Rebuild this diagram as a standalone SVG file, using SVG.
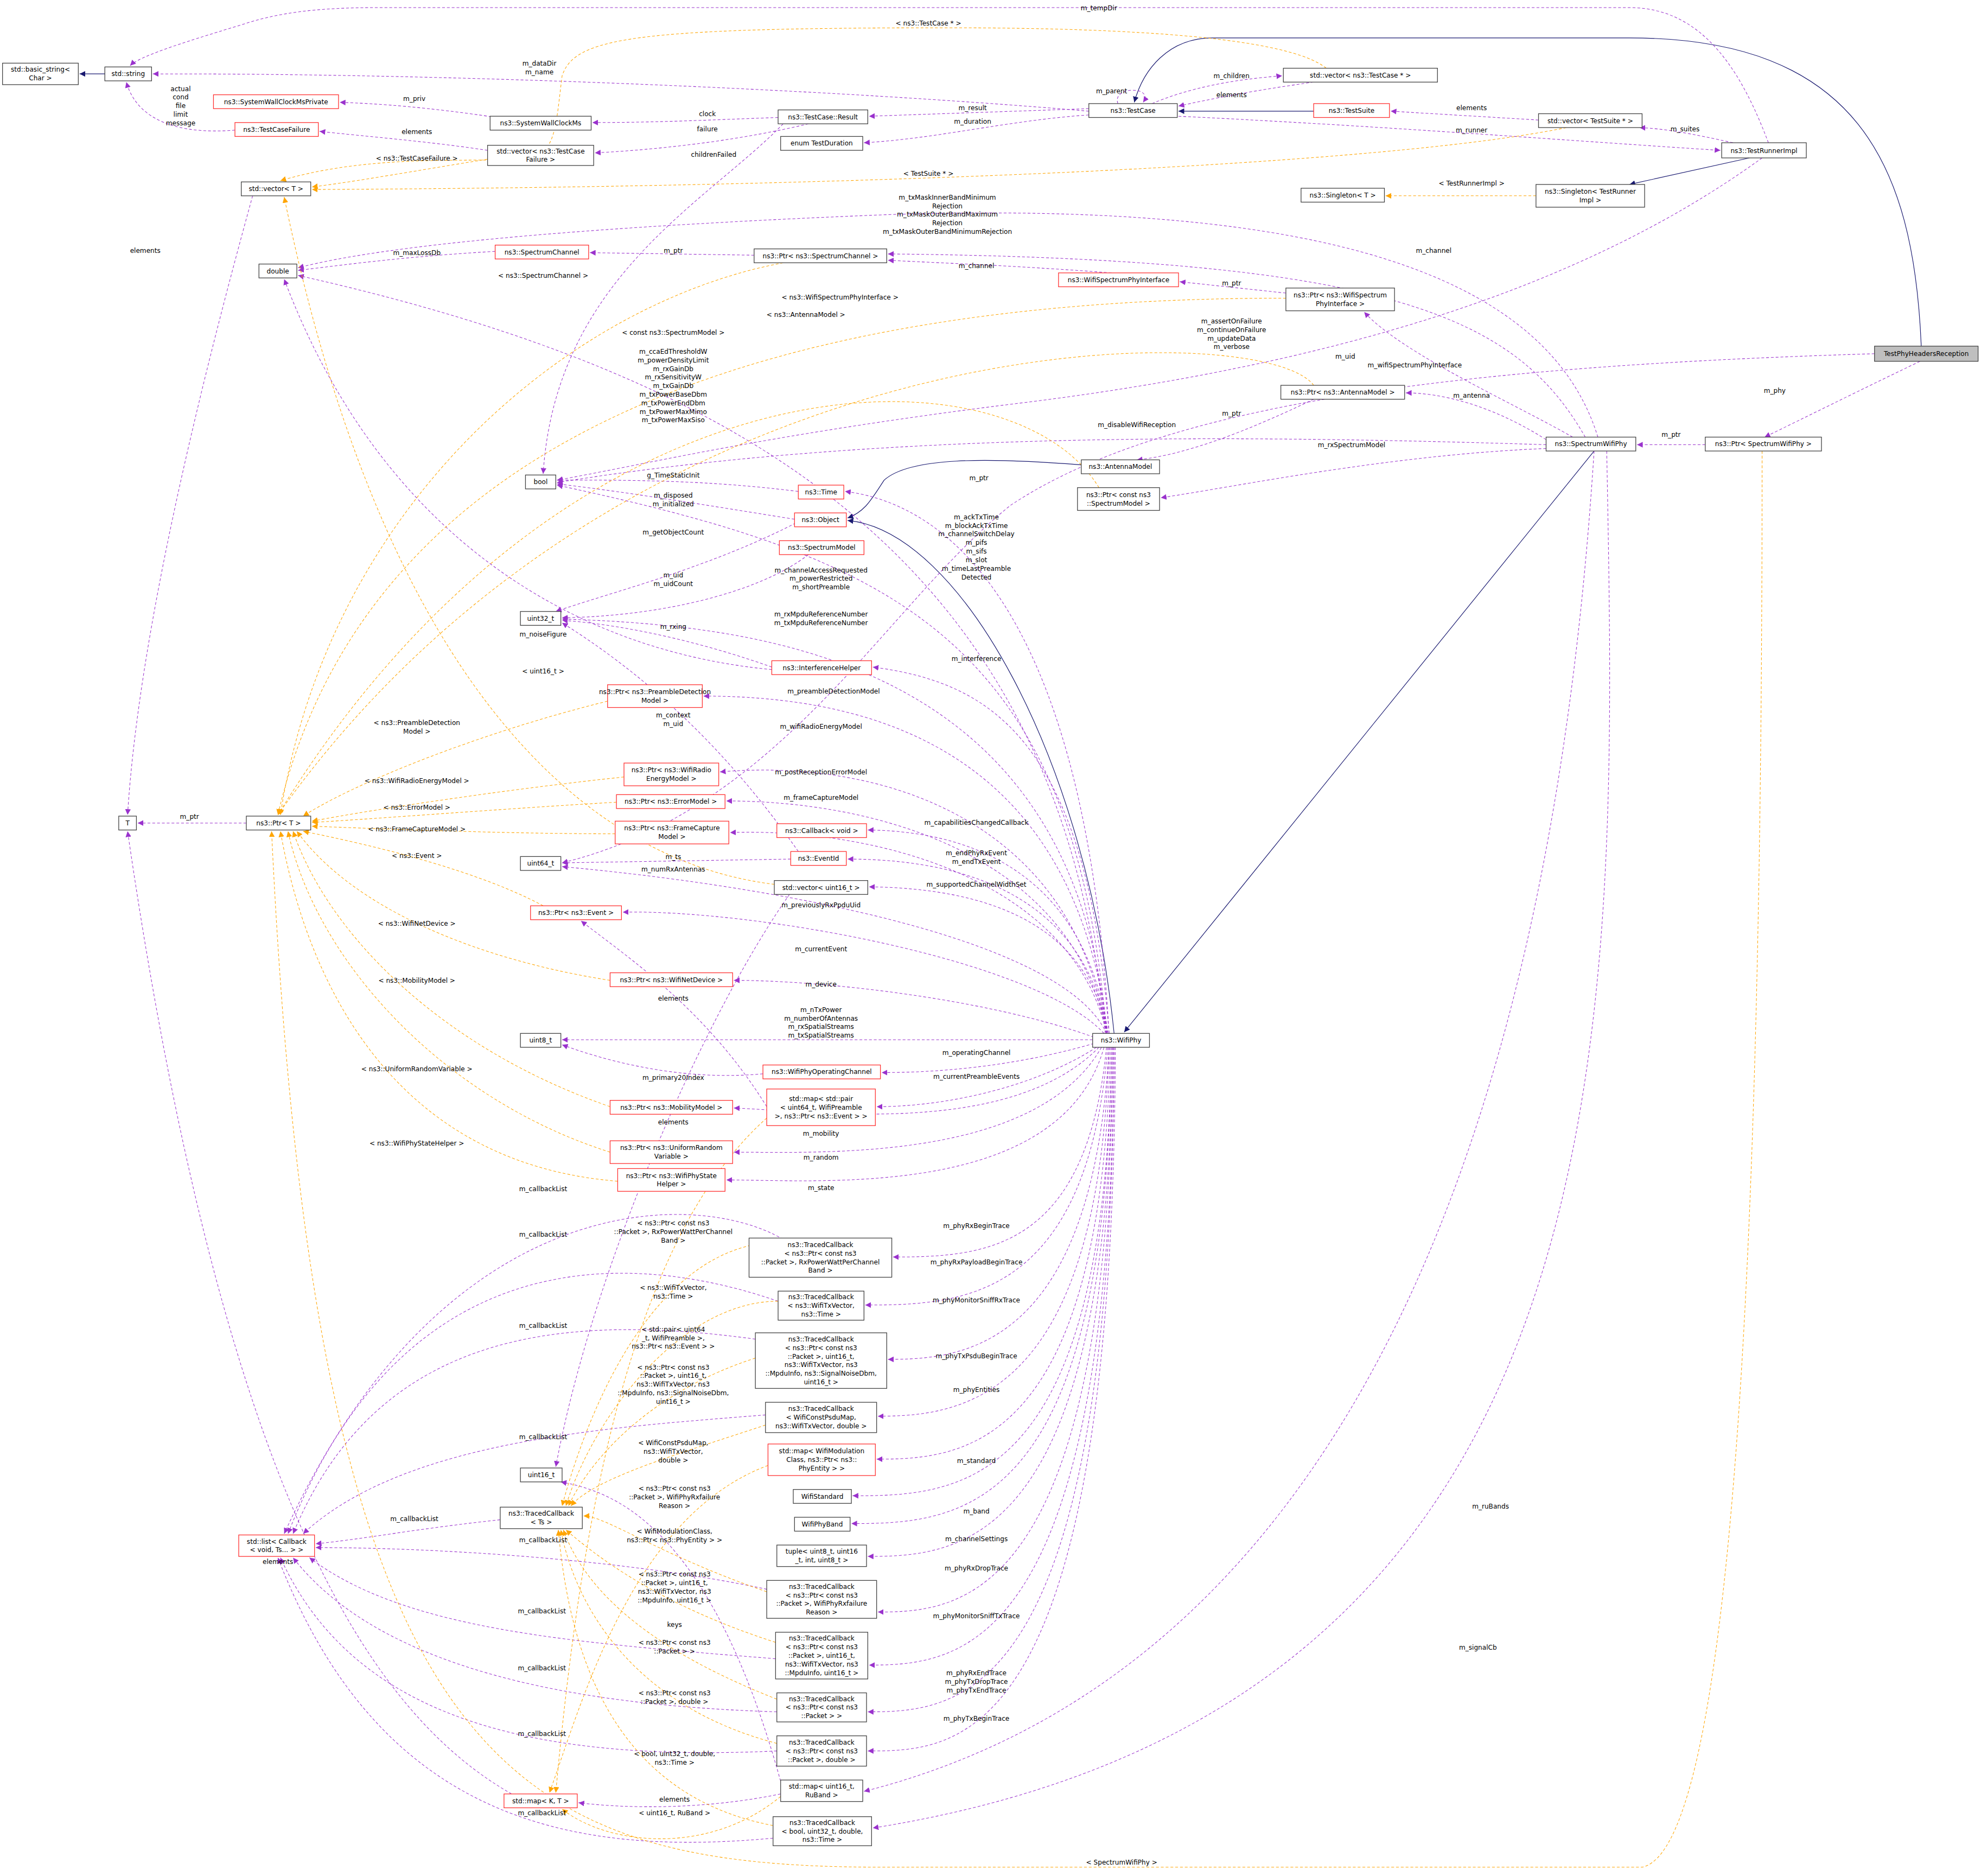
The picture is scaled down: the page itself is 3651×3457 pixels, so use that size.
<svg xmlns="http://www.w3.org/2000/svg" width="3651" height="3457" viewBox="0 0 3651 3457">
<style>
text{font-family:"DejaVu Sans","Liberation Sans",sans-serif;font-size:5.2px;text-anchor:middle;fill:#000}
.nd rect{fill:#fff;stroke:#404040;stroke-width:0.55}
.rd rect{fill:#fff;stroke:#ff3030;stroke-width:0.55}
.gr rect{fill:#bfbfbf;stroke:#404040;stroke-width:0.55}
.p{fill:none;stroke:#9a32cd;stroke-width:0.45;stroke-dasharray:2.2,1.6}
.o{fill:none;stroke:#ffa500;stroke-width:0.45;stroke-dasharray:2.2,1.6}
.n{fill:none;stroke:#191970;stroke-width:0.5}
.p{marker-end:url(#aP)}.o{marker-end:url(#aO)}.n{marker-end:url(#aN)}
</style>
<defs>
<marker id="aP" viewBox="0 0 10 10" refX="10" refY="5" markerWidth="4.5" markerHeight="4.5" markerUnits="userSpaceOnUse" orient="auto"><path d="M0,0L10,5L0,10z" fill="#9a32cd"/></marker>
<marker id="aO" viewBox="0 0 10 10" refX="10" refY="5" markerWidth="4.5" markerHeight="4.5" markerUnits="userSpaceOnUse" orient="auto"><path d="M0,0L10,5L0,10z" fill="#ffa500"/></marker>
<marker id="aN" viewBox="0 0 10 10" refX="10" refY="5" markerWidth="4.5" markerHeight="4.5" markerUnits="userSpaceOnUse" orient="auto"><path d="M0,0L10,5L0,10z" fill="#191970"/></marker>
</defs>
<rect width="3651" height="3457" fill="#fff"/>
<g transform="scale(2.328)">
<g id="edges">
<path class="n" d="M83,58.5L63,58.5"/>
<path class="n" d="M1521,274C1515,130 1470,30 1290,30L960,30C925,30 905,55 898,81"/>
<path class="n" d="M1040,88L933,88"/>
<path class="n" d="M1385,125L1290,146"/>
<path class="n" d="M1262,357L890,817"/>
<path class="n" d="M856,368C780,362 720,362 700,380C690,395 685,405 671,410"/>
<path class="n" d="M882,818C860,600 760,420 671,412"/>
<path class="p" d="M862,88C650,70 350,58 121,58.5"/>
<path class="p" d="M1400,113C1380,60 1350,6 1290,6L300,6C250,6 220,10 190,20C140,35 110,45 103,52"/>
<path class="p" d="M186,103C150,106 110,100 100,65"/>
<path class="p" d="M393,93C340,85 300,82 269,81"/>
<path class="p" d="M386,119C340,112 290,108 253,104"/>
<path class="p" d="M616,93C560,95 520,97 469,97"/>
<path class="p" d="M640,98C590,110 530,118 471,121"/>
<path class="p" d="M862,86L688,92"/>
<path class="p" d="M862,91C800,95 740,110 684,113"/>
<path class="p" d="M620,98C560,160 440,220 430,375"/>
<path class="p" d="M885,82C880,68 914,68 905,81"/>
<path class="p" d="M912,82C950,66 990,62 1015,60"/>
<path class="p" d="M1040,65C990,72 960,78 933,84"/>
<path class="p" d="M1218,95L1101,88"/>
<path class="p" d="M1372,113C1340,106 1320,102 1298,101"/>
<path class="p" d="M933,92C1100,100 1250,112 1362,119"/>
<path class="p" d="M1395,125C1250,230 1050,290 800,320C600,345 500,370 441,380"/>
<path class="p" d="M392,199C320,203 270,210 236,214"/>
<path class="p" d="M597,202L467,200"/>
<path class="p" d="M880,216C800,210 740,208 703,206"/>
<path class="p" d="M1018,232L934,223"/>
<path class="p" d="M1245,346C1200,320 1110,280 1080,247"/>
<path class="p" d="M1255,346C1200,250 1100,205 703,201"/>
<path class="p" d="M1265,346C1220,200 1000,160 700,170C450,180 300,195 236,212"/>
<path class="p" d="M1224,348C1180,320 1140,311 1113,311"/>
<path class="p" d="M1040,316C990,340 940,360 900,364"/>
<path class="p" d="M1224,355C1100,360 980,385 919,394"/>
<path class="p" d="M1224,352C1000,345 700,340 441,382"/>
<path class="p" d="M1484,280C1150,290 920,320 800,400C700,480 620,640 445,683"/>
<path class="p" d="M1520,286C1470,310 1430,330 1397,346"/>
<path class="p" d="M1350,352L1296,352"/>
<path class="p" d="M1262,357C1240,700 1150,1300 684,1418"/>
<path class="p" d="M1272,357C1280,800 1300,1350 691,1447"/>
<path class="p" d="M629,411C560,400 500,390 441,383"/>
<path class="p" d="M632,389C560,380 500,380 441,380"/>
<path class="p" d="M630,414C560,450 480,470 440,484"/>
<path class="p" d="M640,439C600,470 520,488 445,489"/>
<path class="p" d="M611,528C560,510 500,495 445,491"/>
<path class="p" d="M611,530C450,515 300,420 225,221"/>
<path class="p" d="M632,674C580,600 520,540 445,493"/>
<path class="p" d="M626,680L445,683"/>
<path class="p" d="M607,876C560,800 500,760 460,729"/>
<path class="p" d="M625,708C560,800 470,1000 440,1161"/>
<path class="p" d="M195,651.5L109,651.5"/>
<path class="p" d="M405,1420C300,1360 180,1200 101,658"/>
<path class="p" d="M200,155C160,300 110,500 101,645"/>
<path class="p" d="M618,1410C560,1200 480,1180 444,1173"/>
<path class="p" d="M618,1420C560,1432 500,1432 458,1427"/>
<path class="p" d="M875,818C840,450 600,300 236,218"/>
<path class="p" d="M878,818C860,500 760,400 669,389"/>
<path class="p" d="M876,818C850,500 700,440 441,384"/>
<path class="p" d="M876,818C850,520 600,495 445,490"/>
<path class="p" d="M878,818C860,580 780,540 691,528"/>
<path class="p" d="M877,818C850,600 700,551 557,551"/>
<path class="p" d="M876,818C850,650 700,600 570,611"/>
<path class="p" d="M876,818C850,680 700,634 575,634"/>
<path class="p" d="M876,818C850,700 700,655 578,659"/>
<path class="p" d="M877,818C860,700 780,658 687,657"/>
<path class="p" d="M877,818C860,720 780,680 671,680"/>
<path class="p" d="M877,818C860,730 780,703 688,702"/>
<path class="p" d="M876,818C840,740 600,700 445,686"/>
<path class="p" d="M874,818C820,760 600,720 493,722"/>
<path class="p" d="M866,821C780,790 650,776 581,776"/>
<path class="p" d="M865,823L445,823"/>
<path class="p" d="M604,850C540,856 480,840 445,827"/>
<path class="p" d="M866,826C800,845 740,849 698,849"/>
<path class="p" d="M868,829C820,860 750,876 694,876"/>
<path class="p" d="M870,829C800,900 650,880 581,877"/>
<path class="p" d="M872,829C820,920 650,912 581,912"/>
<path class="p" d="M874,829C840,950 650,934 575,934"/>
<path class="p" d="M876,829C860,990 780,995 707,995"/>
<path class="p" d="M877,829C860,1030 760,1033 685,1033"/>
<path class="p" d="M878,829C865,1070 760,1076 703,1076"/>
<path class="p" d="M878,829C870,1110 760,1121 695,1121"/>
<path class="p" d="M879,829C872,1150 760,1155 694,1155"/>
<path class="p" d="M880,829C875,1180 760,1184 675,1184"/>
<path class="p" d="M880,829C876,1200 760,1206 674,1206"/>
<path class="p" d="M881,829C877,1225 760,1232 687,1232"/>
<path class="p" d="M881,829C878,1270 760,1276 695,1276"/>
<path class="p" d="M882,829C879,1310 760,1318 688,1318"/>
<path class="p" d="M882,829C880,1350 760,1355 687,1355"/>
<path class="p" d="M883,829C881,1385 760,1386 687,1386"/>
<path class="p" d="M620,981C550,940 350,940 225,1214"/>
<path class="p" d="M616,1030C500,990 320,980 228,1214"/>
<path class="p" d="M598,1060C450,1040 300,1050 232,1214"/>
<path class="p" d="M606,1120C480,1130 320,1140 240,1214"/>
<path class="p" d="M396,1203C330,1210 290,1218 250,1222"/>
<path class="p" d="M607,1258C500,1235 350,1225 250,1225"/>
<path class="p" d="M614,1313C450,1300 320,1290 245,1233"/>
<path class="p" d="M615,1355C450,1350 300,1320 232,1233"/>
<path class="p" d="M615,1386C420,1395 280,1360 222,1233"/>
<path class="p" d="M612,1455C450,1470 300,1440 220,1233"/>
<path class="o" d="M1050,54C1020,30 900,22 750,22C500,22 455,30 445,60C440,100 440,120 420,125C380,130 300,120 222,143"/>
<path class="o" d="M386,126C330,135 280,144 247,148"/>
<path class="o" d="M1240,101C1100,130 700,148 247,150"/>
<path class="o" d="M1216,155L1097,155"/>
<path class="o" d="M613,700C450,680 300,520 225,156"/>
<path class="o" d="M620,208C450,240 260,400 222,645"/>
<path class="o" d="M1018,236C700,236 300,300 220,645"/>
<path class="o" d="M1040,305C1000,250 500,250 220,645"/>
<path class="o" d="M870,386C800,270 450,270 220,645"/>
<path class="o" d="M481,555C380,580 280,620 240,646"/>
<path class="o" d="M494,615C400,625 300,640 247,650"/>
<path class="o" d="M488,635C400,640 300,648 247,651"/>
<path class="o" d="M487,660C400,660 300,656 247,654"/>
<path class="o" d="M430,717C380,690 300,670 240,658"/>
<path class="o" d="M483,776C380,760 280,720 235,658"/>
<path class="o" d="M483,876C350,830 260,740 232,658"/>
<path class="o" d="M483,912C350,870 250,760 228,658"/>
<path class="o" d="M489,935C300,920 240,760 222,658"/>
<path class="o" d="M1395,357C1395,700 1390,1460 1300,1478L700,1478C400,1478 250,1400 215,658"/>
<path class="o" d="M598,985C520,1000 470,1100 445,1192"/>
<path class="o" d="M616,1030C540,1030 470,1120 448,1192"/>
<path class="o" d="M598,1075C520,1100 470,1150 450,1192"/>
<path class="o" d="M606,1128C540,1150 470,1170 452,1192"/>
<path class="o" d="M607,1260C520,1230 480,1200 462,1200"/>
<path class="o" d="M614,1300C520,1270 470,1230 448,1211"/>
<path class="o" d="M615,1345C500,1300 460,1250 446,1211"/>
<path class="o" d="M615,1380C500,1350 455,1270 444,1211"/>
<path class="o" d="M612,1445C480,1420 450,1300 442,1211"/>
<path class="o" d="M607,885C500,980 460,1200 440,1419"/>
<path class="o" d="M608,1160C500,1200 460,1350 435,1419"/>
<path class="o" d="M618,1422C560,1470 480,1460 445,1432"/>
</g>
<g id="labels">
<text x="870" y="8">m_tempDir</text>
<text x="735" y="20">&lt; ns3::TestCase * &gt;</text>
<text x="427" y="52">m_dataDir<tspan x="427" dy="6.8">m_name</tspan></text>
<text x="880" y="74">m_parent</text>
<text x="975" y="62">m_children</text>
<text x="975" y="77">elements</text>
<text x="1165" y="87">elements</text>
<text x="1334" y="104">m_suites</text>
<text x="1165" y="105">m_runner</text>
<text x="770" y="87">m_result</text>
<text x="770" y="98">m_duration</text>
<text x="560" y="92">clock</text>
<text x="560" y="104">failure</text>
<text x="565" y="124">childrenFailed</text>
<text x="328" y="80">m_priv</text>
<text x="330" y="106">elements</text>
<text x="330" y="127">&lt; ns3::TestCaseFailure &gt;</text>
<text x="143" y="72">actual<tspan x="143" dy="6.8">cond</tspan><tspan x="143" dy="6.8">file</tspan><tspan x="143" dy="6.8">limit</tspan><tspan x="143" dy="6.8">message</tspan></text>
<text x="735" y="139">&lt; TestSuite * &gt;</text>
<text x="1165" y="147">&lt; TestRunnerImpl &gt;</text>
<text x="115" y="200">elements</text>
<text x="750" y="158">m_txMaskInnerBandMinimum<tspan x="750" dy="6.8">Rejection</tspan><tspan x="750" dy="6.8">m_txMaskOuterBandMaximum</tspan><tspan x="750" dy="6.8">Rejection</tspan><tspan x="750" dy="6.8">m_txMaskOuterBandMinimumRejection</tspan></text>
<text x="330" y="202">m_maxLossDb</text>
<text x="533" y="200">m_ptr</text>
<text x="773" y="212">m_channel</text>
<text x="975" y="226">m_ptr</text>
<text x="1135" y="200">m_channel</text>
<text x="430" y="220">&lt; ns3::SpectrumChannel &gt;</text>
<text x="665" y="237">&lt; ns3::WifiSpectrumPhyInterface &gt;</text>
<text x="638" y="251">&lt; ns3::AntennaModel &gt;</text>
<text x="975" y="256">m_assertOnFailure<tspan x="975" dy="6.8">m_continueOnFailure</tspan><tspan x="975" dy="6.8">m_updateData</tspan><tspan x="975" dy="6.8">m_verbose</tspan></text>
<text x="533" y="265">&lt; const ns3::SpectrumModel &gt;</text>
<text x="533" y="280">m_ccaEdThresholdW<tspan x="533" dy="6.8">m_powerDensityLimit</tspan><tspan x="533" dy="6.8">m_rxGainDb</tspan><tspan x="533" dy="6.8">m_rxSensitivityW</tspan><tspan x="533" dy="6.8">m_txGainDb</tspan><tspan x="533" dy="6.8">m_txPowerBaseDbm</tspan><tspan x="533" dy="6.8">m_txPowerEndDbm</tspan><tspan x="533" dy="6.8">m_txPowerMaxMimo</tspan><tspan x="533" dy="6.8">m_txPowerMaxSiso</tspan></text>
<text x="1065" y="284">m_uid</text>
<text x="1120" y="291">m_wifiSpectrumPhyInterface</text>
<text x="1405" y="311">m_phy</text>
<text x="1165" y="315">m_antenna</text>
<text x="975" y="329">m_ptr</text>
<text x="1323" y="346">m_ptr</text>
<text x="900" y="338">m_disableWifiReception</text>
<text x="1070" y="354">m_rxSpectrumModel</text>
<text x="533" y="378">g_TimeStaticInit</text>
<text x="775" y="380">m_ptr</text>
<text x="533" y="394">m_disposed<tspan x="533" dy="6.8">m_initialized</tspan></text>
<text x="773" y="411">m_ackTxTime<tspan x="773" dy="6.8">m_blockAckTxTime</tspan><tspan x="773" dy="6.8">m_channelSwitchDelay</tspan><tspan x="773" dy="6.8">m_pifs</tspan><tspan x="773" dy="6.8">m_sifs</tspan><tspan x="773" dy="6.8">m_slot</tspan><tspan x="773" dy="6.8">m_timeLastPreamble</tspan><tspan x="773" dy="6.8">Detected</tspan></text>
<text x="533" y="423">m_getObjectCount</text>
<text x="650" y="453">m_channelAccessRequested<tspan x="650" dy="6.8">m_powerRestricted</tspan><tspan x="650" dy="6.8">m_shortPreamble</tspan></text>
<text x="533" y="457">m_uid<tspan x="533" dy="6.8">m_uidCount</tspan></text>
<text x="650" y="488">m_rxMpduReferenceNumber<tspan x="650" dy="6.8">m_txMpduReferenceNumber</tspan></text>
<text x="533" y="498">m_rxing</text>
<text x="430" y="504">m_noiseFigure</text>
<text x="773" y="523">m_interference</text>
<text x="430" y="533">&lt; uint16_t &gt;</text>
<text x="660" y="549">m_preambleDetectionModel</text>
<text x="533" y="568">m_context<tspan x="533" dy="6.8">m_uid</tspan></text>
<text x="330" y="574">&lt; ns3::PreambleDetection<tspan x="330" dy="6.8">Model &gt;</tspan></text>
<text x="650" y="577">m_wifiRadioEnergyModel</text>
<text x="650" y="613">m_postReceptionErrorModel</text>
<text x="330" y="620">&lt; ns3::WifiRadioEnergyModel &gt;</text>
<text x="650" y="633">m_frameCaptureModel</text>
<text x="330" y="641">&lt; ns3::ErrorModel &gt;</text>
<text x="150" y="648">m_ptr</text>
<text x="773" y="653">m_capabilitiesChangedCallback</text>
<text x="330" y="658">&lt; ns3::FrameCaptureModel &gt;</text>
<text x="773" y="677">m_endPhyRxEvent<tspan x="773" dy="6.8">m_endTxEvent</tspan></text>
<text x="330" y="679">&lt; ns3::Event &gt;</text>
<text x="533" y="680">m_ts</text>
<text x="533" y="690">m_numRxAntennas</text>
<text x="773" y="702">m_supportedChannelWidthSet</text>
<text x="650" y="718">m_previouslyRxPpduUid</text>
<text x="330" y="733">&lt; ns3::WifiNetDevice &gt;</text>
<text x="650" y="753">m_currentEvent</text>
<text x="330" y="778">&lt; ns3::MobilityModel &gt;</text>
<text x="650" y="781">m_device</text>
<text x="533" y="792">elements</text>
<text x="650" y="801">m_nTxPower<tspan x="650" dy="6.8">m_numberOfAntennas</tspan><tspan x="650" dy="6.8">m_rxSpatialStreams</tspan><tspan x="650" dy="6.8">m_txSpatialStreams</tspan></text>
<text x="773" y="835">m_operatingChannel</text>
<text x="330" y="848">&lt; ns3::UniformRandomVariable &gt;</text>
<text x="773" y="854">m_currentPreambleEvents</text>
<text x="533" y="855">m_primary20Index</text>
<text x="533" y="890">elements</text>
<text x="650" y="899">m_mobility</text>
<text x="330" y="907">&lt; ns3::WifiPhyStateHelper &gt;</text>
<text x="650" y="918">m_random</text>
<text x="430" y="943">m_callbackList</text>
<text x="650" y="942">m_state</text>
<text x="533" y="970">&lt; ns3::Ptr&lt; const ns3<tspan x="533" dy="6.8">::Packet &gt;, RxPowerWattPerChannel</tspan><tspan x="533" dy="6.8">Band &gt;</tspan></text>
<text x="773" y="972">m_phyRxBeginTrace</text>
<text x="430" y="979">m_callbackList</text>
<text x="773" y="1001">m_phyRxPayloadBeginTrace</text>
<text x="533" y="1021">&lt; ns3::WifiTxVector,<tspan x="533" dy="6.8">ns3::Time &gt;</tspan></text>
<text x="773" y="1031">m_phyMonitorSniffRxTrace</text>
<text x="430" y="1051">m_callbackList</text>
<text x="533" y="1054">&lt; std::pair&lt; uint64<tspan x="533" dy="6.8">_t, WifiPreamble &gt;,</tspan><tspan x="533" dy="6.8">ns3::Ptr&lt; ns3::Event &gt; &gt;</tspan></text>
<text x="773" y="1075">m_phyTxPsduBeginTrace</text>
<text x="533" y="1084">&lt; ns3::Ptr&lt; const ns3<tspan x="533" dy="6.8">::Packet &gt;, uint16_t,</tspan><tspan x="533" dy="6.8">ns3::WifiTxVector, ns3</tspan><tspan x="533" dy="6.8">::MpduInfo, ns3::SignalNoiseDbm,</tspan><tspan x="533" dy="6.8">uint16_t &gt;</tspan></text>
<text x="773" y="1102">m_phyEntities</text>
<text x="430" y="1139">m_callbackList</text>
<text x="533" y="1144">&lt; WifiConstPsduMap,<tspan x="533" dy="6.8">ns3::WifiTxVector,</tspan><tspan x="533" dy="6.8">double &gt;</tspan></text>
<text x="773" y="1158">m_standard</text>
<text x="534" y="1180">&lt; ns3::Ptr&lt; const ns3<tspan x="534" dy="6.8">::Packet &gt;, WifiPhyRxfailure</tspan><tspan x="534" dy="6.8">Reason &gt;</tspan></text>
<text x="773" y="1198">m_band</text>
<text x="328" y="1204">m_callbackList</text>
<text x="1180" y="1194">m_ruBands</text>
<text x="534" y="1214">&lt; WifiModulationClass,<tspan x="534" dy="6.8">ns3::Ptr&lt; ns3::PhyEntity &gt; &gt;</tspan></text>
<text x="773" y="1220">m_channelSettings</text>
<text x="430" y="1221">m_callbackList</text>
<text x="220" y="1238">elements</text>
<text x="773" y="1243">m_phyRxDropTrace</text>
<text x="534" y="1248">&lt; ns3::Ptr&lt; const ns3<tspan x="534" dy="6.8">::Packet &gt;, uint16_t,</tspan><tspan x="534" dy="6.8">ns3::WifiTxVector, ns3</tspan><tspan x="534" dy="6.8">::MpduInfo, uint16_t &gt;</tspan></text>
<text x="429" y="1277">m_callbackList</text>
<text x="534" y="1288">keys</text>
<text x="773" y="1281">m_phyMonitorSniffTxTrace</text>
<text x="534" y="1302">&lt; ns3::Ptr&lt; const ns3<tspan x="534" dy="6.8">::Packet &gt; &gt;</tspan></text>
<text x="429" y="1322">m_callbackList</text>
<text x="773" y="1326">m_phyRxEndTrace<tspan x="773" dy="6.8">m_phyTxDropTrace</tspan><tspan x="773" dy="6.8">m_phyTxEndTrace</tspan></text>
<text x="534" y="1342">&lt; ns3::Ptr&lt; const ns3<tspan x="534" dy="6.8">::Packet &gt;, double &gt;</tspan></text>
<text x="773" y="1362">m_phyTxBeginTrace</text>
<text x="429" y="1374">m_callbackList</text>
<text x="534" y="1390">&lt; bool, uint32_t, double,<tspan x="534" dy="6.8">ns3::Time &gt;</tspan></text>
<text x="1170" y="1306">m_signalCb</text>
<text x="534" y="1426">elements</text>
<text x="429" y="1437">m_callbackList</text>
<text x="534" y="1437">&lt; uint16_t, RuBand &gt;</text>
<text x="888" y="1476">&lt; SpectrumWifiPhy &gt;</text>
</g>
<g id="n1" class="nd"><rect x="2" y="50" width="60" height="17"/><text x="32" y="56.9">std::basic_string&lt;<tspan x="32" dy="6.8">Char &gt;</tspan></text></g>
<g id="n2" class="nd"><rect x="83" y="53" width="37" height="11"/><text x="101.5" y="60.3">std::string</text></g>
<g id="n3" class="rd"><rect x="169" y="75" width="99" height="11"/><text x="218.5" y="82.3">ns3::SystemWallClockMsPrivate</text></g>
<g id="n4" class="rd"><rect x="186" y="97" width="66" height="11"/><text x="219" y="104.3">ns3::TestCaseFailure</text></g>
<g id="n5" class="nd"><rect x="388" y="92" width="80" height="11"/><text x="428" y="99.3">ns3::SystemWallClockMs</text></g>
<g id="n6" class="nd"><rect x="386" y="115" width="84" height="16"/><text x="428" y="121.4">std::vector&lt; ns3::TestCase<tspan x="428" dy="6.8">Failure &gt;</tspan></text></g>
<g id="n7" class="nd"><rect x="191" y="144" width="55" height="11"/><text x="218.5" y="151.3">std::vector&lt; T &gt;</text></g>
<g id="n8" class="nd"><rect x="616" y="87" width="71" height="11"/><text x="651.5" y="94.3">ns3::TestCase::Result</text></g>
<g id="n9" class="nd"><rect x="618" y="108" width="65" height="11"/><text x="650.5" y="115.3">enum TestDuration</text></g>
<g id="n10" class="nd"><rect x="862" y="82" width="70" height="11"/><text x="897" y="89.3">ns3::TestCase</text></g>
<g id="n11" class="nd"><rect x="1016" y="54" width="122" height="11"/><text x="1077" y="61.3">std::vector&lt; ns3::TestCase * &gt;</text></g>
<g id="n12" class="rd"><rect x="1040" y="82" width="60" height="11"/><text x="1070" y="89.3">ns3::TestSuite</text></g>
<g id="n13" class="nd"><rect x="1218" y="90" width="82" height="11"/><text x="1259" y="97.3">std::vector&lt; TestSuite * &gt;</text></g>
<g id="n14" class="nd"><rect x="1363" y="113" width="67" height="12"/><text x="1396.5" y="121">ns3::TestRunnerImpl</text></g>
<g id="n15" class="nd"><rect x="1216" y="146" width="86" height="18"/><text x="1259" y="153.4">ns3::Singleton&lt; TestRunner<tspan x="1259" dy="6.8">Impl &gt;</tspan></text></g>
<g id="n16" class="nd"><rect x="1030" y="149" width="66" height="11"/><text x="1063" y="156.3">ns3::Singleton&lt; T &gt;</text></g>
<g id="n17" class="gr"><rect x="1484" y="274" width="82" height="12"/><text x="1525" y="282">TestPhyHeadersReception</text></g>
<g id="n18" class="rd"><rect x="392" y="194" width="74" height="11"/><text x="429" y="201.3">ns3::SpectrumChannel</text></g>
<g id="n19" class="nd"><rect x="597" y="197" width="105" height="11"/><text x="649.5" y="204.3">ns3::Ptr&lt; ns3::SpectrumChannel &gt;</text></g>
<g id="n20" class="nd"><rect x="205" y="209" width="30" height="11"/><text x="220" y="216.3">double</text></g>
<g id="n21" class="rd"><rect x="838" y="216" width="95" height="11"/><text x="885.5" y="223.3">ns3::WifiSpectrumPhyInterface</text></g>
<g id="n22" class="nd"><rect x="1018" y="228" width="86" height="18"/><text x="1061" y="235.4">ns3::Ptr&lt; ns3::WifiSpectrum<tspan x="1061" dy="6.8">PhyInterface &gt;</tspan></text></g>
<g id="n23" class="nd"><rect x="1014" y="305" width="98" height="11"/><text x="1063" y="312.3">ns3::Ptr&lt; ns3::AntennaModel &gt;</text></g>
<g id="n24" class="nd"><rect x="1224" y="346" width="71" height="11"/><text x="1259.5" y="353.3">ns3::SpectrumWifiPhy</text></g>
<g id="n25" class="nd"><rect x="1350" y="346" width="92" height="11"/><text x="1396" y="353.3">ns3::Ptr&lt; SpectrumWifiPhy &gt;</text></g>
<g id="n26" class="nd"><rect x="856" y="364" width="62" height="11"/><text x="887" y="371.3">ns3::AntennaModel</text></g>
<g id="n27" class="nd"><rect x="853" y="386" width="65" height="18"/><text x="885.5" y="393.4">ns3::Ptr&lt; const ns3<tspan x="885.5" dy="6.8">::SpectrumModel &gt;</tspan></text></g>
<g id="n28" class="nd"><rect x="416" y="376" width="24" height="11"/><text x="428" y="383.3">bool</text></g>
<g id="n29" class="rd"><rect x="632" y="384" width="36" height="11"/><text x="650" y="391.3">ns3::Time</text></g>
<g id="n30" class="rd"><rect x="629" y="406" width="41" height="11"/><text x="649.5" y="413.3">ns3::Object</text></g>
<g id="n31" class="rd"><rect x="617" y="428" width="67" height="11"/><text x="650.5" y="435.3">ns3::SpectrumModel</text></g>
<g id="n32" class="nd"><rect x="412" y="484" width="32" height="11"/><text x="428" y="491.3">uint32_t</text></g>
<g id="n33" class="rd"><rect x="611" y="523" width="79" height="11"/><text x="650.5" y="530.3">ns3::InterferenceHelper</text></g>
<g id="n34" class="rd"><rect x="481" y="542" width="75" height="18"/><text x="518.5" y="549.4">ns3::Ptr&lt; ns3::PreambleDetection<tspan x="518.5" dy="6.8">Model &gt;</tspan></text></g>
<g id="n35" class="rd"><rect x="494" y="604" width="75" height="18"/><text x="531.5" y="611.4">ns3::Ptr&lt; ns3::WifiRadio<tspan x="531.5" dy="6.8">EnergyModel &gt;</tspan></text></g>
<g id="n36" class="rd"><rect x="488" y="629" width="86" height="11"/><text x="531" y="636.3">ns3::Ptr&lt; ns3::ErrorModel &gt;</text></g>
<g id="n37" class="rd"><rect x="487" y="650" width="90" height="18"/><text x="532" y="657.4">ns3::Ptr&lt; ns3::FrameCapture<tspan x="532" dy="6.8">Model &gt;</tspan></text></g>
<g id="n38" class="nd"><rect x="195" y="646" width="51" height="11"/><text x="220.5" y="653.3">ns3::Ptr&lt; T &gt;</text></g>
<g id="n39" class="nd"><rect x="94" y="646" width="14" height="11"/><text x="101" y="653.3">T</text></g>
<g id="n40" class="rd"><rect x="615" y="652" width="71" height="11"/><text x="650.5" y="659.3">ns3::Callback&lt; void &gt;</text></g>
<g id="n41" class="rd"><rect x="626" y="674" width="44" height="11"/><text x="648" y="681.3">ns3::EventId</text></g>
<g id="n42" class="nd"><rect x="412" y="678" width="32" height="11"/><text x="428" y="685.3">uint64_t</text></g>
<g id="n43" class="nd"><rect x="613" y="697" width="74" height="11"/><text x="650" y="704.3">std::vector&lt; uint16_t &gt;</text></g>
<g id="n44" class="rd"><rect x="420" y="717" width="72" height="11"/><text x="456" y="724.3">ns3::Ptr&lt; ns3::Event &gt;</text></g>
<g id="n45" class="rd"><rect x="483" y="770" width="97" height="11"/><text x="531.5" y="777.3">ns3::Ptr&lt; ns3::WifiNetDevice &gt;</text></g>
<g id="n46" class="nd"><rect x="412" y="818" width="32" height="11"/><text x="428" y="825.3">uint8_t</text></g>
<g id="n47" class="nd"><rect x="865" y="818" width="45" height="11"/><text x="887.5" y="825.3">ns3::WifiPhy</text></g>
<g id="n48" class="rd"><rect x="604" y="843" width="93" height="11"/><text x="650.5" y="850.3">ns3::WifiPhyOperatingChannel</text></g>
<g id="n49" class="rd"><rect x="607" y="862" width="86" height="29"/><text x="650" y="871.5">std::map&lt; std::pair<tspan x="650" dy="6.8">&lt; uint64_t, WifiPreamble</tspan><tspan x="650" dy="6.8">&gt;, ns3::Ptr&lt; ns3::Event &gt; &gt;</tspan></text></g>
<g id="n50" class="rd"><rect x="483" y="871" width="97" height="11"/><text x="531.5" y="878.3">ns3::Ptr&lt; ns3::MobilityModel &gt;</text></g>
<g id="n51" class="rd"><rect x="483" y="903" width="97" height="18"/><text x="531.5" y="910.4">ns3::Ptr&lt; ns3::UniformRandom<tspan x="531.5" dy="6.8">Variable &gt;</tspan></text></g>
<g id="n52" class="rd"><rect x="489" y="925" width="85" height="18"/><text x="531.5" y="932.4">ns3::Ptr&lt; ns3::WifiPhyState<tspan x="531.5" dy="6.8">Helper &gt;</tspan></text></g>
<g id="n53" class="nd"><rect x="593" y="980" width="113" height="31"/><text x="649.5" y="987.1">ns3::TracedCallback<tspan x="649.5" dy="6.8">&lt; ns3::Ptr&lt; const ns3</tspan><tspan x="649.5" dy="6.8">::Packet &gt;, RxPowerWattPerChannel</tspan><tspan x="649.5" dy="6.8">Band &gt;</tspan></text></g>
<g id="n54" class="nd"><rect x="616" y="1022" width="68" height="23"/><text x="650" y="1028.5">ns3::TracedCallback<tspan x="650" dy="6.8">&lt; ns3::WifiTxVector,</tspan><tspan x="650" dy="6.8">ns3::Time &gt;</tspan></text></g>
<g id="n55" class="nd"><rect x="598" y="1055" width="104" height="44"/><text x="650" y="1061.8">ns3::TracedCallback<tspan x="650" dy="6.8">&lt; ns3::Ptr&lt; const ns3</tspan><tspan x="650" dy="6.8">::Packet &gt;, uint16_t,</tspan><tspan x="650" dy="6.8">ns3::WifiTxVector, ns3</tspan><tspan x="650" dy="6.8">::MpduInfo, ns3::SignalNoiseDbm,</tspan><tspan x="650" dy="6.8">uint16_t &gt;</tspan></text></g>
<g id="n56" class="nd"><rect x="606" y="1110" width="88" height="24"/><text x="650" y="1117">ns3::TracedCallback<tspan x="650" dy="6.8">&lt; WifiConstPsduMap,</tspan><tspan x="650" dy="6.8">ns3::WifiTxVector, double &gt;</tspan></text></g>
<g id="n57" class="rd"><rect x="608" y="1143" width="85" height="25"/><text x="650.5" y="1150.5">std::map&lt; WifiModulation<tspan x="650.5" dy="6.8">Class, ns3::Ptr&lt; ns3::</tspan><tspan x="650.5" dy="6.8">PhyEntity &gt; &gt;</tspan></text></g>
<g id="n58" class="nd"><rect x="412" y="1162" width="33" height="11"/><text x="428.5" y="1169.3">uint16_t</text></g>
<g id="n59" class="nd"><rect x="628" y="1179" width="46" height="11"/><text x="651" y="1186.3">WifiStandard</text></g>
<g id="n60" class="nd"><rect x="396" y="1193" width="65" height="17"/><text x="428.5" y="1199.9">ns3::TracedCallback<tspan x="428.5" dy="6.8">&lt; Ts &gt;</tspan></text></g>
<g id="n61" class="nd"><rect x="629" y="1201" width="44" height="11"/><text x="651" y="1208.3">WifiPhyBand</text></g>
<g id="n62" class="rd"><rect x="189" y="1215" width="60" height="17"/><text x="219" y="1221.9">std::list&lt; Callback<tspan x="219" dy="6.8">&lt; void, Ts... &gt; &gt;</tspan></text></g>
<g id="n63" class="nd"><rect x="615" y="1223" width="71" height="17"/><text x="650.5" y="1229.9">tuple&lt; uint8_t, uint16<tspan x="650.5" dy="6.8">_t, int, uint8_t &gt;</tspan></text></g>
<g id="n64" class="nd"><rect x="607" y="1251" width="87" height="30"/><text x="650.5" y="1257.6">ns3::TracedCallback<tspan x="650.5" dy="6.8">&lt; ns3::Ptr&lt; const ns3</tspan><tspan x="650.5" dy="6.8">::Packet &gt;, WifiPhyRxfailure</tspan><tspan x="650.5" dy="6.8">Reason &gt;</tspan></text></g>
<g id="n65" class="nd"><rect x="614" y="1292" width="73" height="37"/><text x="650.5" y="1298.7">ns3::TracedCallback<tspan x="650.5" dy="6.8">&lt; ns3::Ptr&lt; const ns3</tspan><tspan x="650.5" dy="6.8">::Packet &gt;, uint16_t,</tspan><tspan x="650.5" dy="6.8">ns3::WifiTxVector, ns3</tspan><tspan x="650.5" dy="6.8">::MpduInfo, uint16_t &gt;</tspan></text></g>
<g id="n66" class="nd"><rect x="615" y="1340" width="71" height="23"/><text x="650.5" y="1346.5">ns3::TracedCallback<tspan x="650.5" dy="6.8">&lt; ns3::Ptr&lt; const ns3</tspan><tspan x="650.5" dy="6.8">::Packet &gt; &gt;</tspan></text></g>
<g id="n67" class="nd"><rect x="615" y="1374" width="71" height="24"/><text x="650.5" y="1381">ns3::TracedCallback<tspan x="650.5" dy="6.8">&lt; ns3::Ptr&lt; const ns3</tspan><tspan x="650.5" dy="6.8">::Packet &gt;, double &gt;</tspan></text></g>
<g id="n68" class="nd"><rect x="618" y="1409" width="65" height="17"/><text x="650.5" y="1415.9">std::map&lt; uint16_t,<tspan x="650.5" dy="6.8">RuBand &gt;</tspan></text></g>
<g id="n69" class="rd"><rect x="399" y="1420" width="58" height="11"/><text x="428" y="1427.3">std::map&lt; K, T &gt;</text></g>
<g id="n70" class="nd"><rect x="612" y="1438" width="78" height="23"/><text x="651" y="1444.5">ns3::TracedCallback<tspan x="651" dy="6.8">&lt; bool, uint32_t, double,</tspan><tspan x="651" dy="6.8">ns3::Time &gt;</tspan></text></g>
</g>
</svg>
